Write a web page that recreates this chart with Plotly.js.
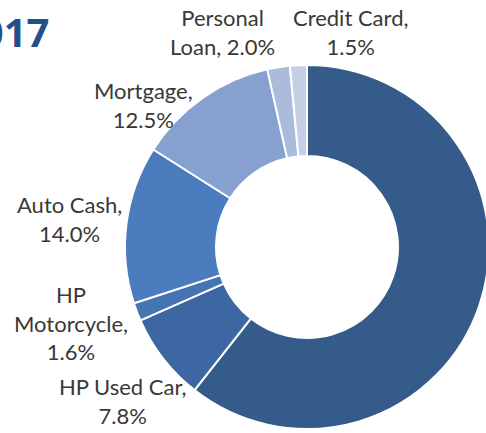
<!DOCTYPE html>
<html>
<head>
<meta charset="utf-8">
<script src="https://cdn.plot.ly/plotly-3.0.1.min.js"></script>
<style>
html,body{margin:0;padding:0;overflow:hidden;background:#fff;width:486px;height:433px;}
#chart{width:620px;height:433px;}
</style>
</head>
<body>
<div id="chart"></div>
<script>
// Data
const categories = ["HP New Car", "HP Used Car", "HP Motorcycle", "Auto Cash", "Mortgage", "Personal Loan", "Credit Card"];
const shares = [60.6, 7.8, 1.6, 14.0, 12.5, 2.0, 1.5];
const labelLines = [null, ["HP Used Car,", "{v}"], ["HP", "Motorcycle,", "{v}"], ["Auto Cash,", "{v}"], ["Mortgage,", "{v}"], ["Personal", "Loan, {v}"], ["Credit Card,", "{v}"]];
const sliceColors = ["#345B8A", "#3D67A2", "#4574B2", "#4A7CBE", "#86A1D0", "#AABBDB", "#C6D0E4"];
const titleText = "2017";

// Layout geometry (pixels)
const W = 620, H = 433;
const cx = 307, cy = 247, R = 182;
const labelPos = [null, [123, 401], [71, 323], [69, 219], [143, 105], [222, 32], [350, 32]];

const trace = {
  type: "pie",
  labels: categories,
  values: shares,
  sort: false,
  direction: "clockwise",
  rotation: 0,
  hole: 0.5,
  textinfo: "none",
  hoverinfo: "label+percent",
  marker: {colors: sliceColors, line: {color: "#ffffff", width: 2}},
  domain: {x: [(cx - R) / W, (cx + R) / W], y: [(H - (cy + R)) / H, (H - (cy - R)) / H]},
  showlegend: false
};

const annotations = [];
categories.forEach((c, i) => {
  if (!labelLines[i]) return;
  const txt = labelLines[i].map(s => s.replace("{v}", shares[i].toFixed(1) + "%")).join("<br>");
  annotations.push({
    xref: "paper", yref: "paper",
    x: labelPos[i][0] / W, y: 1 - labelPos[i][1] / H,
    xanchor: "center", yanchor: "middle",
    text: txt, showarrow: false, align: "center",
    font: {family: "Lato, 'Open Sans', sans-serif", size: 22, color: "#383838"}
  });
});
annotations.push({
  xref: "paper", yref: "paper",
  x: 51 / W, y: 1 - 32 / H,
  xanchor: "right", yanchor: "middle",
  text: "<b>" + titleText + "</b>", showarrow: false,
  font: {family: "'Open Sans', Lato, sans-serif", size: 40, color: "#22508B"}
});

Plotly.newPlot("chart", [trace], {
  width: W, height: H,
  margin: {l: 0, r: 0, t: 0, b: 0},
  paper_bgcolor: "#ffffff",
  annotations: annotations
}, {staticPlot: true});
</script>
</body>
</html>
